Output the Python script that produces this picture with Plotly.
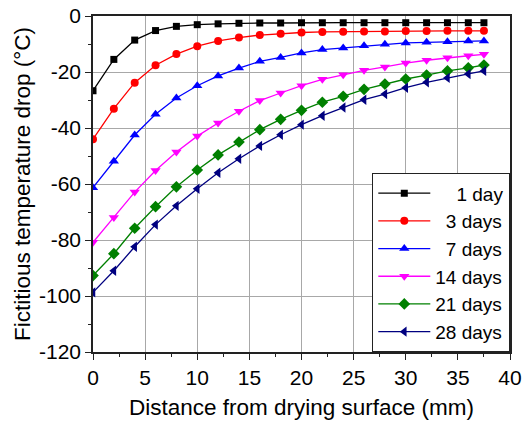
import plotly.graph_objects as go

distance_mm = [0, 2, 4, 6, 8, 10, 12, 14, 16, 18, 20, 22, 24, 26, 28, 30, 32, 34, 36, 37.5]

day1 = [-26.7, -15.5, -8.6, -5.2, -3.7, -3.1, -2.8, -2.6, -2.5, -2.5, -2.4, -2.4, -2.4, -2.4, -2.4, -2.4, -2.4, -2.4, -2.4, -2.4]
day3 = [-44.0, -33.1, -23.8, -17.6, -13.6, -10.8, -8.9, -7.7, -6.8, -6.3, -5.9, -5.7, -5.6, -5.5, -5.5, -5.4, -5.4, -5.3, -5.3, -5.3]
day7 = [-61.3, -51.9, -42.5, -35.1, -29.3, -24.9, -21.4, -18.6, -16.2, -14.8, -13.2, -12.0, -11.4, -10.6, -10.1, -9.6, -9.4, -9.2, -8.9, -8.9]
day14 = [-80.8, -72.0, -62.9, -55.2, -48.6, -42.9, -38.2, -34.0, -30.2, -27.5, -24.9, -22.6, -21.0, -19.4, -18.2, -16.8, -15.8, -14.9, -14.2, -13.7]
day21 = [-92.7, -84.9, -75.8, -68.1, -61.0, -55.0, -49.6, -45.0, -40.6, -36.9, -33.7, -30.8, -28.7, -26.2, -24.3, -22.5, -21.1, -19.6, -18.5, -17.5]
day28 = [-98.7, -91.0, -82.4, -74.5, -67.8, -61.7, -56.0, -51.0, -46.4, -42.4, -38.8, -35.6, -32.7, -29.9, -27.9, -25.6, -23.7, -22.1, -20.7, -19.6]

series_names = ["1 day", "3 days", "7 days", "14 days", "21 days", "28 days"]
series_values = [day1, day3, day7, day14, day21, day28]
colors = ["#000000", "#FF0000", "#0000FF", "#FF00FF", "#008000", "#000080"]
symbols = ["square", "circle", "triangle-up", "triangle-down", "diamond", "triangle-left"]
sizes = [7, 8, 9, 9, 9, 9]

x_ticks = [0, 5, 10, 15, 20, 25, 30, 35, 40]
x_tick_labels = ["0", "5", "10", "15", "20", "25", "30", "35", "40"]
y_ticks = [0, -20, -40, -60, -80, -100, -120]
y_tick_labels = ["0", "-20", "-40", "-60", "-80", "-100", "-120"]

FONT = "Liberation Sans, Arial, sans-serif"
FS = "\u2007"

def pad(name):
    return FS * (7 - len(name)) + name

fig = go.Figure()
for name, vals, c, s, sz in zip(series_names, series_values, colors, symbols, sizes):
    fig.add_trace(go.Scatter(
        x=distance_mm, y=vals, mode="lines+markers", name=pad(name),
        line=dict(color=c, width=1.3),
        marker=dict(symbol=s, size=sz, color=c, line=dict(width=0)),
    ))

axis_common = dict(
    showline=True, linecolor="#222222", linewidth=1.5, mirror=True,
    showgrid=True, gridcolor="#a8a8a8", gridwidth=1.2,
    ticks="outside", ticklen=6, tickwidth=1.3, tickcolor="#222222",
    zeroline=False, automargin=False,
    tickfont=dict(family=FONT, size=21, color="#000000"),
)

fig.update_xaxes(
    range=[0, 40], tickvals=x_ticks, ticktext=x_tick_labels,
    title=dict(text="Distance from drying surface (mm)", font=dict(family=FONT, size=22.5, color="#000000"), standoff=11),
    minor=dict(dtick=2.5, ticks="outside", ticklen=3, tickcolor="#222222", showgrid=False),
    **axis_common,
)
fig.update_yaxes(
    range=[-120, 0], tickvals=y_ticks, ticktext=y_tick_labels,
    title=dict(text="Fictitious temperature drop (°C)", font=dict(family=FONT, size=22.5, color="#000000"), standoff=2),
    minor=dict(dtick=10, ticks="outside", ticklen=3, tickcolor="#222222", showgrid=False),
    **axis_common,
)

fig.update_layout(
    width=524, height=427,
    margin=dict(l=93, r=14, t=16, b=75),
    plot_bgcolor="white", paper_bgcolor="white",
    font=dict(family=FONT, size=21, color="#000000"),
    legend=dict(
        x=1, y=0, xanchor="right", yanchor="bottom",
        bgcolor="white", bordercolor="#222222", borderwidth=1.3,
        font=dict(family=FONT, size=19, color="#000000"),
        itemwidth=52, tracegroupgap=0,
    ),
    showlegend=True,
)

fig.write_html(
    "out.html",
    config={"displayModeBar": False},
    post_script="document.body.style.margin='0';document.body.style.overflow='hidden';",
)
